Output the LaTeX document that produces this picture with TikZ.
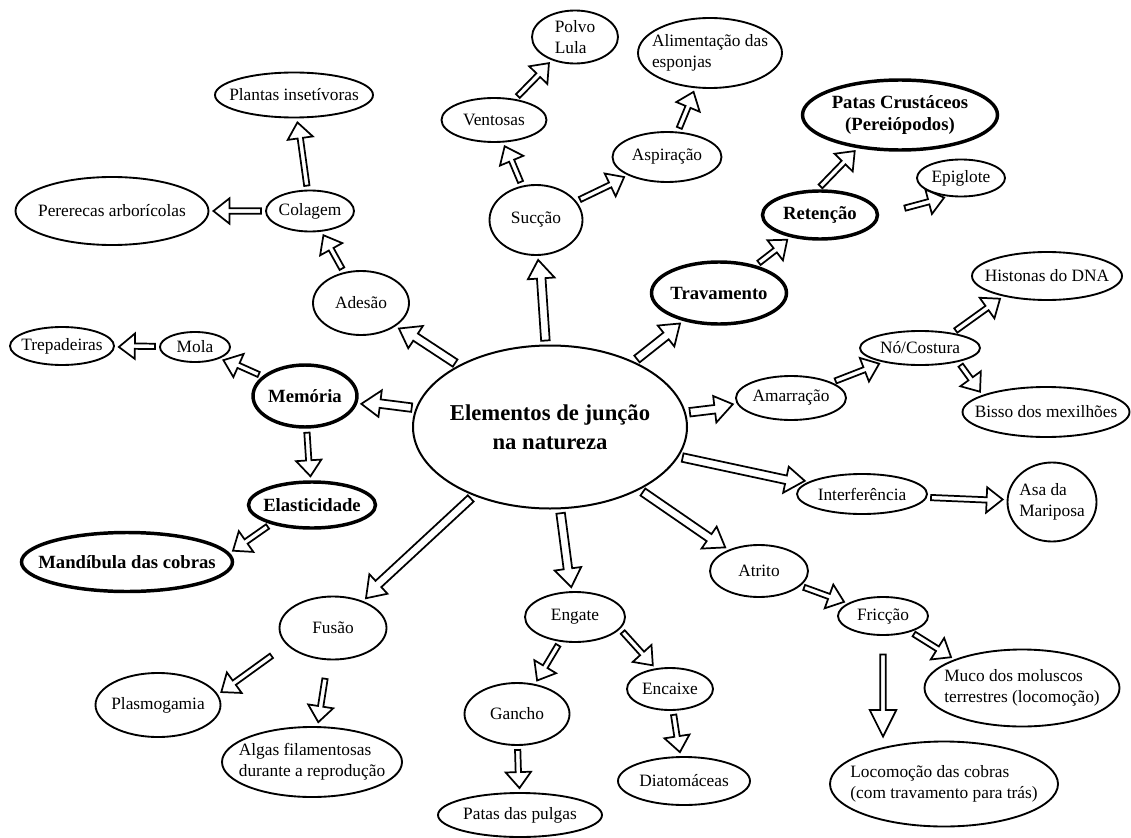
\documentclass[tikz,border=0pt]{standalone}
\usepackage{fontspec}
\setmainfont{Liberation Serif}
\usetikzlibrary{shapes.geometric,calc}

\tikzset{
  blk shaft/.store in=\blkshaft, blk head/.store in=\blkhead, blk len/.store in=\blklen,
  gap a/.store in=\blkgapa, gap b/.store in=\blkgapb,
  blk shaft=2pt, blk head=9.5pt, blk len=12pt, gap a=3pt, gap b=3pt,
  bigblk/.style={blk shaft=3.2pt, blk head=10pt, blk len=14pt},
  % hollow block arrow between the borders of two nodes
  blk/.style={draw, line width=1.3pt, fill=white, to path={
    let \p1=(\tikztostart), \p2=(\tikztotarget),
        \n1={atan2(\y2-\y1,\x2-\x1)}, \n2={mod(\n1+360,360)}, \n3={mod(\n1+540,360)},
        \p3=(\tikztostart.\n2), \p4=(\tikztotarget.\n3),
        \p5=($(\p3)+(\n1:\blkgapa)$), \p7=($(\p4)+(\n1:-\blkgapb)$),
        \n4={veclen(\x7-\x5,\y7-\y5)},
        \p6=($(\p5)+(\n1:{\n4*1pt-\blklen})$) in
    ($(\p5)+(\n1+90:\blkshaft)$) -- ($(\p6)+(\n1+90:\blkshaft)$)
    -- ($(\p6)+(\n1+90:\blkhead)$) -- (\p7)
    -- ($(\p6)+(\n1-90:\blkhead)$) -- ($(\p6)+(\n1-90:\blkshaft)$)
    -- ($(\p5)+(\n1-90:\blkshaft)$) -- cycle}},
  % same arrow, but between two given points (anchors)
  blkp/.style={draw, line width=1.3pt, fill=white, to path={
    let \p1=(\tikztostart), \p2=(\tikztotarget),
        \n1={atan2(\y2-\y1,\x2-\x1)},
        \p5=($(\p1)+(\n1:\blkgapa)$), \p7=($(\p2)+(\n1:-\blkgapb)$),
        \n4={veclen(\x7-\x5,\y7-\y5)},
        \p6=($(\p5)+(\n1:{\n4*1pt-\blklen})$) in
    ($(\p5)+(\n1+90:\blkshaft)$) -- ($(\p6)+(\n1+90:\blkshaft)$)
    -- ($(\p6)+(\n1+90:\blkhead)$) -- (\p7)
    -- ($(\p6)+(\n1-90:\blkhead)$) -- ($(\p6)+(\n1-90:\blkshaft)$)
    -- ($(\p5)+(\n1-90:\blkshaft)$) -- cycle}}
}

\begin{document}
\begin{tikzpicture}[x=.75pt, y=-.75pt,
    bub/.style={ellipse, draw, line width=1.4pt, inner sep=-60pt, align=center,
                font=\fontsize{13}{15.5}\selectfont},
    key/.style={bub, line width=2.6pt, font=\fontsize{14}{16.5}\selectfont\bfseries},
    main/.style={bub, line width=1.5pt, font=\fontsize{17}{22}\selectfont\bfseries},
    sz/.style 2 args={minimum width=#1*.75pt, minimum height=#2*.75pt}]
  \useasboundingbox (0,0) rectangle (1131,838);

  \node[main, sz={274}{163}] (c) at (550,427) {Elementos de junção\\na natureza};

  % ramo esquerdo
  \node[bub, sz={96}{64}] (adesao) at (361,303) {Adesão};
  \node[bub, sz={88}{41}] (colagem) at (310,211) {Colagem};
  \node[bub, sz={158}{45}] (plantas) at (294,95) {Plantas insetívoras};
  \node[bub, sz={193}{68}] (perereca) at (112,211) {Pererecas arborícolas};
  \node[key, sz={104}{62}] (memoria) at (305,396) {Memória};
  \node[bub, sz={70}{30}] (mola) at (195,347) {Mola};
  \node[bub, sz={104}{38}] (trepa) at (62,346) {Trepadeiras};
  \node[key, sz={127}{46}] (elast) at (312,505) {Elasticidade};
  \node[key, sz={211}{59}] (mandib) at (127,562) {Mandíbula das cobras};

  % ramo de cima
  \node[bub, sz={93}{70}] (succao) at (536,220) {Sucção};
  \node[bub, sz={105}{44}] (ventosas) at (494,120) {Ventosas};
  \node[bub, sz={86}{53}, align=left] (polvo) at (575,37) {Polvo\\Lula};
  \node[bub, sz={109}{50}] (aspir) at (667,157) {Aspiração};
  \node[bub, sz={144}{70}, align=left] (aliment) at (710,53) {Alimentação das\\esponjas};
  \node[key, sz={135}{62}] (travam) at (719,293) {Travamento};
  \node[key, sz={115}{48}] (retenc) at (820,215) {Retenção};
  \node[key, sz={195}{70}] (patas) at (900,115) {Patas Crustáceos\\(Pereiópodos)};
  \node[bub, sz={88}{37}] (epiglote) at (961,178) {Epiglote};

  % ramo direito
  \node[bub, sz={110}{44}] (amarr) at (791,398) {Amarração};
  \node[bub, sz={120}{34}] (no) at (920,348) {Nó/Costura};
  \node[bub, sz={150}{48}] (histonas) at (1047,276) {Histonas do DNA};
  \node[bub, sz={167}{50}] (bisso) at (1046,412) {Bisso dos mexilhões};
  \node[bub, sz={130}{40}] (interf) at (862,494) {Interferência};
  \node[bub, sz={89}{79}, align=left] (asa) at (1052,502) {Asa da\\Mariposa};
  \node[bub, sz={98}{52}] (atrito) at (759,571) {Atrito};
  \node[bub, sz={90}{38}] (friccao) at (883,616) {Fricção};
  \node[bub, sz={195}{77}, align=left] (muco) at (1022,688) {Muco dos moluscos\\terrestres (locomoção)};
  \node[bub, sz={228}{85}, align=left] (locom) at (944,784) {Locomoção das cobras\\(com travamento para trás)};

  % ramo de baixo
  \node[bub, sz={100}{50}] (engate) at (575,617) {Engate};
  \node[bub, sz={105}{62}] (gancho) at (517,714) {Gancho};
  \node[bub, sz={164}{44}] (pulgas) at (520,815) {Patas das pulgas};
  \node[bub, sz={86}{42}] (encaixe) at (670,689) {Encaixe};
  \node[bub, sz={132}{48}] (diatom) at (684,781) {Diatomáceas};
  \node[bub, sz={107}{63}] (fusao) at (333,628) {Fusão};
  \node[bub, sz={125}{64}] (plasmo) at (158,705) {Plasmogamia};
  \node[bub, sz={180}{70}, align=left] (algas) at (312,762) {Algas filamentosas\\durante a reprodução};

  \draw[blk, bigblk] (c) to (adesao); \draw[blk, bigblk] (c) to (succao);
  \draw[blk, bigblk] (c) to (travam); \draw[blk, bigblk] (c) to (memoria);
  \draw[blk, bigblk] (c) to (amarr); \draw[blk, bigblk] (c) to (interf);
  \draw[blk, bigblk] (c) to (atrito); \draw[blk, bigblk] (c) to (engate);
  \draw[blk, bigblk] (c) to (fusao);

  \draw[blk] (adesao) to (colagem); \draw[blk] (colagem) to (plantas);
  \draw[blk] (colagem) to (perereca);
  \draw[blk] (memoria) to (mola); \draw[blk] (mola) to (trepa);
  \draw[blk] (memoria) to (elast); \draw[blkp] (elast.205) to (mandib.5);

  \draw[blk] (succao) to (ventosas); \draw[blk] (ventosas) to (polvo);
  \draw[blk] (succao) to (aspir); \draw[blk] (aspir) to (aliment);
  \draw[blk] (travam) to (retenc); \draw[blkp] (retenc.95) to (patas.218);
  \draw[blkp, gap a=20pt] (retenc.east) to (epiglote.235);

  \draw[blk] (amarr) to (no); \draw[blkp] (no.25) to (histonas.205);
  \draw[blkp] (no.-20) to (bisso.165);
  \draw[blk] (interf) to (asa);
  \draw[blk] (atrito) to (friccao); \draw[blkp] (friccao.-30) to (muco.157);
  \draw[blkp, gap a=14pt, blk head=10pt, blk len=20pt] (friccao.south) to (friccao.south |- locom.north);

  \draw[blk] (engate) to (gancho); \draw[blkp] (engate.-15) to (encaixe.125);
  \draw[blk] (encaixe) to (diatom); \draw[blk] (gancho) to (pulgas);
  \draw[blkp, gap a=14pt] (fusao.200) to (plasmo.10);
  \draw[blk, gap a=14pt] (fusao) to (algas);
\end{tikzpicture}
\end{document}
